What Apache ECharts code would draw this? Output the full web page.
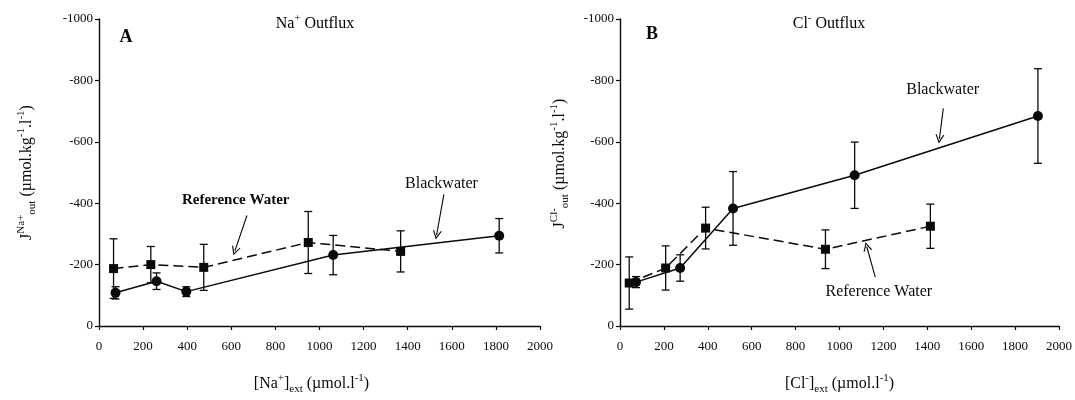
<!DOCTYPE html>
<html>
<head>
<meta charset="utf-8">
<script src="https://cdn.jsdelivr.net/npm/echarts/dist/echarts.min.js"></script>
<style>
  html, body { margin: 0; padding: 0; background: #fff; }
  #chart { width: 1075px; height: 400px; }
</style>
</head>
<body>
<div id="chart"></div>
<script>
// ---- Data ----
const naBlackX   = [75, 261, 396, 1062, 1815];
const naBlackY   = [108, 146, 112, 231, 294];
const naBlackErr = [20, 27, 16, 64, 56];
const naRefX     = [66, 235, 475, 949, 1368];
const naRefY     = [187, 200, 191, 272, 243];
const naRefErr   = [97, 59, 75, 101, 67];

const clBlackX   = [73, 274, 515, 1069, 1904];
const clBlackY   = [143, 189, 383, 491, 684];
const clBlackErr = [18, 43, 120, 108, 154];
const clRefX     = [42, 208, 390, 936, 1414];
const clRefY     = [140, 189, 319, 250, 325];
const clRefErr   = [85, 72, 68, 63, 72];

// annotation arrows and notes, in data units
const naArrows = [[[671, 360], [616, 244]], [[1564, 429], [1531, 296]]];
const clArrows = [[[1473, 709], [1455, 609]], [[1163, 159], [1124, 259]]];
const naNotes = [['Reference Water', 620, 410, 'bold'], ['Blackwater', 1553, 463, 'normal']];
const clNotes = [['Blackwater', 1470, 770, 'normal'], ['Reference Water', 1179, 111, 'normal']];

const FONT = '"Liberation Serif", "DejaVu Serif", serif';
const INK = '#0a0a0a';

function pts(xs, ys) { return xs.map((x, i) => [x, ys[i]]); }
function errs(xs, ys, es) { return xs.map((x, i) => [x, ys[i] - es[i], ys[i] + es[i]]); }

function renderErr(params, api) {
  const x = api.value(0), lo = api.value(1), hi = api.value(2);
  const p1 = api.coord([x, lo]), p2 = api.coord([x, hi]);
  const w = 4;
  const st = { stroke: INK, lineWidth: 1.3 };
  return {
    type: 'group',
    children: [
      { type: 'line', shape: { x1: p1[0], y1: p1[1], x2: p2[0], y2: p2[1] }, style: st },
      { type: 'line', shape: { x1: p1[0] - w, y1: p1[1], x2: p1[0] + w, y2: p1[1] }, style: st },
      { type: 'line', shape: { x1: p2[0] - w, y1: p2[1], x2: p2[0] + w, y2: p2[1] }, style: st }
    ]
  };
}

const richName = {
  n:   { fontFamily: FONT, fontSize: 16, color: INK, lineHeight: 22, verticalAlign: 'middle' },
  sup: { fontFamily: FONT, fontSize: 11, color: INK, lineHeight: 10, verticalAlign: 'top' },
  sub: { fontFamily: FONT, fontSize: 11, color: INK, lineHeight: 10, verticalAlign: 'bottom' }
};

function xAxisCfg(idx, name, padding) {
  return {
    gridIndex: idx, type: 'value', min: 0, max: 2000, interval: 200,
    name: name, nameLocation: 'middle', nameGap: 47,
    nameTextStyle: { rich: richName, padding: padding },
    axisLine: { lineStyle: { color: INK, width: 1.4 } },
    axisTick: { show: true, inside: false, length: 4, lineStyle: { color: INK, width: 1.2 } },
    axisLabel: { fontFamily: FONT, fontSize: 13, color: INK, margin: 14, formatter: v => String(v) },
    splitLine: { show: false }
  };
}
function yAxisCfg(idx, name, gap, padding) {
  return {
    gridIndex: idx, type: 'value', min: 0, max: 1000, interval: 200,
    name: name, nameLocation: 'middle', nameGap: gap, nameRotate: 90,
    nameTextStyle: { rich: richName, padding: padding },
    axisLine: { show: true, lineStyle: { color: INK, width: 1.4 } },
    axisTick: { show: true, inside: false, length: 4, lineStyle: { color: INK, width: 1.2 } },
    axisLabel: { fontFamily: FONT, fontSize: 13, color: INK, margin: 6,
      formatter: v => (v === 0 ? '0' : '-' + v) },
    splitLine: { show: false }
  };
}

const arrowHead = 'path://M0,10 L5,0 L10,10 L8.6,10 L5,2.8 L1.4,10 Z';
function arrowMarks(arr) {
  return {
    silent: true,
    symbol: ['none', arrowHead],
    symbolSize: 9,
    label: { show: false },
    emphasis: { disabled: true },
    itemStyle: { color: INK },
    lineStyle: { color: INK, width: 1.1, type: 'solid' },
    data: arr.map(a => [{ coord: a[0] }, { coord: a[1] }])
  };
}

function panelSeries(idx, bx, by, be, rx, ry, re, arrows) {
  return [
    { type: 'custom', xAxisIndex: idx, yAxisIndex: idx, renderItem: renderErr,
      data: errs(rx, ry, re), encode: { x: 0, y: [1, 2] }, silent: true, z: 1 },
    { type: 'custom', xAxisIndex: idx, yAxisIndex: idx, renderItem: renderErr,
      data: errs(bx, by, be), encode: { x: 0, y: [1, 2] }, silent: true, z: 1 },
    { name: 'Reference Water', type: 'line', xAxisIndex: idx, yAxisIndex: idx,
      data: pts(rx, ry), symbol: 'rect', symbolSize: 9, z: 3,
      itemStyle: { color: INK },
      lineStyle: { color: INK, width: 1.5, type: [10, 5] } },
    { name: 'Blackwater', type: 'line', xAxisIndex: idx, yAxisIndex: idx,
      data: pts(bx, by), symbol: 'circle', symbolSize: 10, z: 4,
      itemStyle: { color: INK },
      lineStyle: { color: INK, width: 1.5, type: 'solid' },
      markLine: arrowMarks(arrows) }
  ];
}

const chart = echarts.init(document.getElementById('chart'), null, { renderer: 'canvas' });

const option = {
  backgroundColor: '#fff',
  animation: false,
  grid: [
    { left: 99, top: 19, width: 441, height: 312 },
    { left: 620, top: 19, width: 440, height: 311 }
  ],
  xAxis: [
    xAxisCfg(0, '{n|[Na}{sup|+}{n|]}{sub|ext}{n| (µmol.l}{sup|-1}{n|)}', [0, 16, 0, 0]),
    xAxisCfg(1, '{n|[Cl}{sup|-}{n|]}{sub|ext}{n| (µmol.l}{sup|-1}{n|)}', [0, 0, 0, 0])
  ],
  yAxis: [
    yAxisCfg(0, '{n|J}{sup|Na+}{sub|out}{n| (µmol.kg}{sup|-1}{n|.l}{sup|-1}{n|)}', 61, [0, 0, 0, 0]),
    yAxisCfg(1, '{n|J}{sup|Cl-}{sub|out}{n| (µmol.kg}{sup|-1}{n|.l}{sup|-1}{n|)}', 49, [0, 0, 0, 18])
  ],
  series: [
    ...panelSeries(0, naBlackX, naBlackY, naBlackErr, naRefX, naRefY, naRefErr, naArrows),
    ...panelSeries(1, clBlackX, clBlackY, clBlackErr, clRefX, clRefY, clRefErr, clArrows)
  ]
};
chart.setOption(option);

const titleRich = {
  n:   { fontFamily: FONT, fontSize: 16, color: INK, lineHeight: 22, verticalAlign: 'middle' },
  sup: { fontFamily: FONT, fontSize: 11, color: INK, lineHeight: 10, verticalAlign: 'top' }
};
const graphics = [
  { type: 'text', x: 315, y: 24, style: { text: '{n|Na}{sup|+}{n| Outflux}', rich: titleRich, align: 'center', verticalAlign: 'middle' } },
  { type: 'text', x: 829, y: 24, style: { text: '{n|Cl}{sup|-}{n| Outflux}', rich: titleRich, align: 'center', verticalAlign: 'middle' } },
  { type: 'text', x: 126, y: 37, style: { text: 'A', font: 'bold 18px ' + FONT, fill: INK, align: 'center', verticalAlign: 'middle' } },
  { type: 'text', x: 652, y: 34, style: { text: 'B', font: 'bold 18px ' + FONT, fill: INK, align: 'center', verticalAlign: 'middle' } }
];
function addNotes(notes, gridIndex) {
  notes.forEach(n => {
    const p = chart.convertToPixel({ gridIndex: gridIndex }, [n[1], n[2]]);
    const size = n[3] === 'bold' ? 15 : 16;
    graphics.push({ type: 'text', x: p[0], y: p[1],
      style: { text: n[0], font: n[3] + ' ' + size + 'px ' + FONT, fill: INK, align: 'center', verticalAlign: 'middle' } });
  });
}
addNotes(naNotes, 0);
addNotes(clNotes, 1);
chart.setOption({ graphic: graphics });
</script>
</body>
</html>
